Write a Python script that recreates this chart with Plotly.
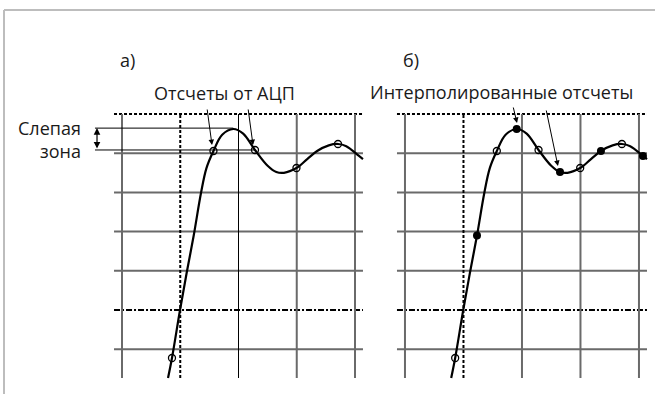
import plotly.graph_objects as go

# ---- data (grid units: vertical grid lines at x=0..4, horizontal at v=-1..5) ----
grid_x = [0, 1, 2, 3, 4]            # x=1 is the dotted trigger line
grid_v = [5, 4, 3, 2, 1, 0, -1]     # v=5 dotted top, v=0 dash-dot
grid_x_extent = [-0.137, 4.137]
grid_v_extent = [-1.735, 5]

signal_x = [0.790, 0.858, 0.996, 1.116, 1.231, 1.356, 1.45, 1.570, 1.72, 1.91, 2.08,
            2.283, 2.50, 2.650, 2.78, 2.995, 3.18, 3.350, 3.55, 3.708, 3.85, 4.068, 4.137]
signal_v = [-1.735, -1.224, 0.0, 0.995, 1.90, 2.985, 3.62, 4.056, 4.47, 4.617, 4.50,
            4.082, 3.68, 3.520, 3.50, 3.622, 3.85, 4.056, 4.20, 4.235, 4.18, 3.929, 3.85]

adc_x = [0.858, 1.570, 2.283, 2.995, 3.708]
adc_v = [-1.224, 4.056, 4.082, 3.622, 4.235]

interp_x = [1.231, 1.91, 2.650, 3.350, 4.068]
interp_v = [1.90, 4.617, 3.520, 4.056, 3.929]

blind_top, blind_bot = 4.64, 4.082
blind_left = -0.464
blind_arrow_x = -0.429

label_a = "а)"
label_b = "б)"
label_adc = "Отсчеты от АЦП"
label_interp = "Интерполированные отсчеты"
label_blind = ["Слепая", "зона"]

GRAY = "#6a6a6a"
FONT = dict(family="Open Sans", size=18, color="#1a1a1a")

fig = go.Figure()


def add_grid(xa, center_black):
    # horizontal lines
    for v in grid_v:
        if v == 5:
            style = dict(color="black", width=2, dash="3px,2px")
        elif v == 0:
            style = dict(color="black", width=2, dash="6px,2px,2px,2px")
        else:
            style = dict(color=GRAY, width=2)
        fig.add_trace(go.Scatter(x=grid_x_extent, y=[v, v], mode="lines", line=style,
                                 xaxis=xa, yaxis="y", hoverinfo="skip", showlegend=False))
    # vertical lines
    for x in grid_x:
        if x == 1:
            style = dict(color="black", width=2, dash="3px,2px")
        elif x == 2 and center_black:
            style = dict(color="black", width=1)
        else:
            style = dict(color=GRAY, width=2)
        fig.add_trace(go.Scatter(x=[x, x], y=grid_v_extent, mode="lines", line=style,
                                 xaxis=xa, yaxis="y", hoverinfo="skip", showlegend=False))


add_grid("x", True)
add_grid("x2", False)

# blind zone lines (left panel)
fig.add_trace(go.Scatter(x=[blind_left, 1.91], y=[blind_top, blind_top], mode="lines",
                         line=dict(color="black", width=1), showlegend=False, hoverinfo="skip"))
fig.add_trace(go.Scatter(x=[blind_left, 2.283], y=[blind_bot, blind_bot], mode="lines",
                         line=dict(color="black", width=1), showlegend=False, hoverinfo="skip"))

# signal curves
for xa in ["x", "x2"]:
    fig.add_trace(go.Scatter(x=signal_x, y=signal_v, mode="lines",
                             line=dict(color="black", width=2.2, shape="spline", smoothing=1.0),
                             xaxis=xa, yaxis="y", showlegend=False, hoverinfo="skip"))
    fig.add_trace(go.Scatter(x=adc_x, y=adc_v, mode="markers",
                             marker=dict(symbol="circle-open", size=7, color="black",
                                         line=dict(width=1.3, color="black")),
                             xaxis=xa, yaxis="y", showlegend=False, hoverinfo="skip"))

fig.add_trace(go.Scatter(x=interp_x, y=interp_v, mode="markers",
                         marker=dict(symbol="circle", size=8, color="black"),
                         xaxis="x2", yaxis="y", showlegend=False, hoverinfo="skip"))

ann = []
# text labels
ann.append(dict(x=0.086, y=6.378, xref="x", yref="y", text=label_a, showarrow=False, font=FONT))
ann.append(dict(x=0.103, y=6.378, xref="x2", yref="y", text=label_b, showarrow=False, font=FONT))
ann.append(dict(x=1.768, y=5.536, xref="x", yref="y", text=label_adc, showarrow=False, font=FONT))
ann.append(dict(x=1.658, y=5.561, xref="x2", yref="y", text=label_interp, showarrow=False, font=FONT))
ann.append(dict(x=-0.67, y=4.36, xref="x", yref="y", text="<br>".join(label_blind), showarrow=False,
                xanchor="right", align="right", font=FONT))

# pointer arrows
arrows = [
    ("x", 1.459, 5.153, 1.545, 4.209),
    ("x", 2.163, 5.153, 2.249, 4.209),
    ("x2", 1.846, 5.204, 1.915, 4.770),
    ("x2", 2.410, 5.128, 2.615, 3.673),
]
for xa, tx, tv, hx, hv in arrows:
    ann.append(dict(x=hx, y=hv, ax=tx, ay=tv, xref=xa, yref="y", axref=xa, ayref="y",
                    text="", showarrow=True, arrowhead=2, arrowsize=1.1, arrowwidth=1,
                    arrowcolor="black", standoff=0))

# double arrow for blind zone
ann.append(dict(x=blind_arrow_x, y=blind_top, ax=blind_arrow_x, ay=blind_bot,
                xref="x", yref="y", axref="x", ayref="y", text="", showarrow=True,
                arrowhead=2, arrowside="end+start", arrowsize=1.1, arrowwidth=1.2,
                arrowcolor="black", startarrowhead=2, startarrowsize=1.1, standoff=0, startstandoff=0))

# frame (top and left edges)
shapes = [
    dict(type="line", xref="paper", yref="paper", x0=4 / 655, x1=1, y0=1 - 10 / 394, y1=1 - 10 / 394,
         line=dict(color="#bdbdbd", width=2)),
    dict(type="line", xref="paper", yref="paper", x0=4 / 655, x1=4 / 655, y0=0, y1=1 - 10 / 394,
         line=dict(color="#bdbdbd", width=2)),
]

fig.update_layout(
    width=655, height=394,
    margin=dict(l=0, r=0, t=0, b=0),
    paper_bgcolor="white", plot_bgcolor="white",
    xaxis=dict(range=[-2.0944, 9.1502], domain=[0, 1], visible=False, fixedrange=True),
    xaxis2=dict(range=[-6.923, 4.274], domain=[0, 1], overlaying="x", visible=False, fixedrange=True),
    yaxis=dict(range=[-2.143, 7.908], domain=[0, 1], visible=False, fixedrange=True),
    annotations=ann,
    shapes=shapes,
    showlegend=False,
)

fig.write_html("out.html")
